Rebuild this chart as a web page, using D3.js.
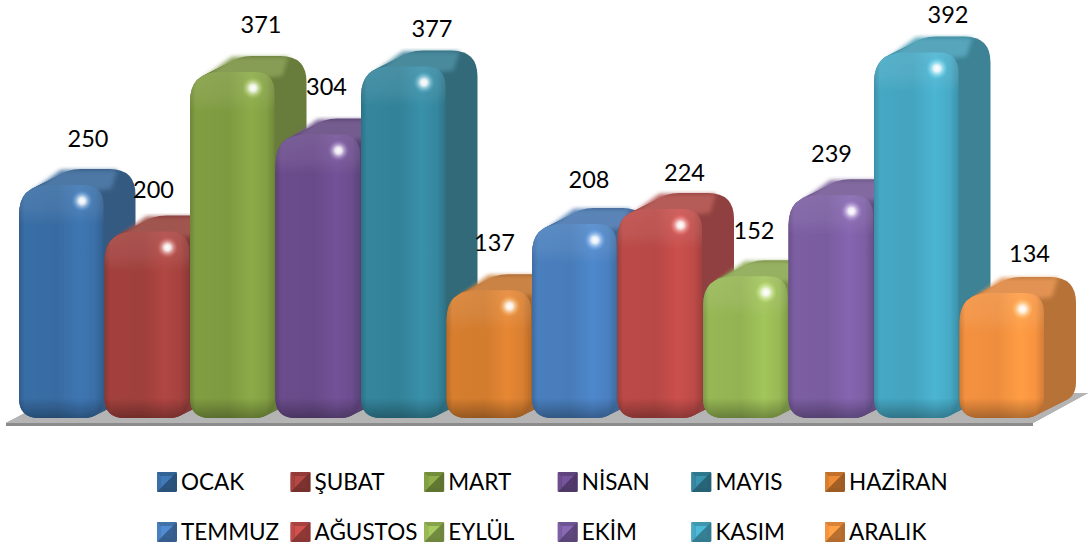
<!DOCTYPE html>
<html>
<head>
<meta charset="utf-8">
<script src="https://cdn.jsdelivr.net/npm/d3@7"></script>
<style>
  html, body { margin: 0; padding: 0; background: #fff; }
  svg { display: block; }
  text { font-family: Lato, "Open Sans", sans-serif; fill: #000; }
</style>
</head>
<body>
<svg id="chart" width="1088" height="548"></svg>
<script>
const months = ["OCAK", "ŞUBAT", "MART", "NİSAN", "MAYIS", "HAZİRAN", "TEMMUZ", "AĞUSTOS", "EYLÜL", "EKİM", "KASIM", "ARALIK"];
const counts = [250, 200, 371, 304, 377, 137, 208, 224, 152, 239, 392, 134];
const colors = ["#3a6fa8", "#a5423e", "#83a043", "#6c4d8e", "#35879f", "#d97f30", "#4a80c0", "#be4b48", "#98b955", "#7d5fa5", "#46aac6", "#f79340"];

// the labels were placed by hand in the original, so they don't follow the bars exactly
const labelDx = [69, 49, 71, 51, 71, 48, 57, 67, 51, 43, 74, 70];
const labelDy = [-38, -34, -39, -40, -29, -39, -36, -28, -37, -33, -29, -31];

const width = 1088, height = 548;
const depthX = 32, depthY = -16;

const svg = d3.select("#chart");
const defs = svg.append("defs");

const x = d3.scaleBand(months, [19, 19 + 12 * 85.5]);
const y = d3.scaleLinear([0, 400], [418, 45]);
const legendX = d3.scaleBand(d3.range(6), [157, 157 + 6 * 133.6]);
const legendY = d3.scaleBand(d3.range(2), [457, 557]);

function blur(id, amount) {
  defs.append("filter").attr("id", id)
    .attr("x", "-15%").attr("y", "-15%").attr("width", "130%").attr("height", "130%")
    .append("feGaussianBlur").attr("stdDeviation", amount);
}
blur("soft", 0.7);
blur("softer", 2.2);

function roundedBar(x0, y0, w, y1, rTL, rTR, rB) {
  const p = d3.path();
  p.moveTo(x0, y0 + rTL);
  p.quadraticCurveTo(x0, y0, x0 + rTL, y0);
  p.lineTo(x0 + w - rTR, y0);
  p.quadraticCurveTo(x0 + w, y0, x0 + w, y0 + rTR);
  p.lineTo(x0 + w, y1 - rB);
  p.quadraticCurveTo(x0 + w, y1, x0 + w - rB, y1);
  p.lineTo(x0 + rB, y1);
  p.quadraticCurveTo(x0, y1, x0, y1 - rB);
  p.closePath();
  return p.toString();
}

function addGradients(i, c, top) {
  const base = d3.rgb(c);
  const front = defs.append("linearGradient").attr("id", "front" + i);
  [[0, base.darker(0.5)], [0.07, base.darker(0.03)], [0.45, base.darker(0.1)],
   [0.72, base.brighter(0.18)], [0.9, base], [1, base.darker(0.45)]].forEach(s => {
    front.append("stop").attr("offset", s[0]).attr("stop-color", s[1]);
  });

  const shade = defs.append("linearGradient").attr("id", "shade" + i)
    .attr("gradientUnits", "userSpaceOnUse")
    .attr("x1", 0).attr("x2", 0).attr("y1", top).attr("y2", y(0));
  const h = y(0) - top;
  [[0, "#fff", 0.1], [24 / h, "#fff", 0.07], [40 / h, "#fff", 0],
   [1 - 20 / h, "#000", 0], [1, "#000", 0.3]].forEach(s => {
    shade.append("stop").attr("offset", s[0]).attr("stop-color", s[1]).attr("stop-opacity", s[2]);
  });

  const glow = defs.append("radialGradient").attr("id", "glow" + i);
  glow.append("stop").attr("offset", 0).attr("stop-color", "#fff").attr("stop-opacity", 1);
  glow.append("stop").attr("offset", 0.3).attr("stop-color", "#fff").attr("stop-opacity", 0.85);
  glow.append("stop").attr("offset", 1).attr("stop-color", base.brighter(0.8)).attr("stop-opacity", 0);
}

// floor
const floorFront = y(0) + 5, floorBack = y(0) - 25;
const floorPoints = [
  [x.range()[0] - 13, floorFront],
  [x.range()[0] + depthX + 12, floorBack],
  [width, floorBack],
  [width - 55, floorFront]
];
const floor = svg.append("g").attr("filter", "url(#soft)");
floor.append("polygon")
  .attr("points", floorPoints.concat([[width - 55, floorFront + 3], [x.range()[0] - 13, floorFront + 3]]).join(" "))
  .attr("fill", "#8c8c8c");
floor.append("polygon").attr("points", floorPoints.join(" ")).attr("fill", "#b4b4b4");

// bars, drawn left to right so each one covers the side of the one before it
months.forEach((m, i) => {
  const x0 = x(m), w = x.bandwidth() - 1, top = y(counts[i]), bottom = y(0), c = colors[i];
  addGradients(i, c, top);
  const base = d3.rgb(c);
  const side = d3.interpolateRgb(base.darker(0.7), "#707070")(0.12);
  const g = svg.append("g").attr("class", "bar").attr("filter", "url(#soft)");

  // side: the front shape dragged back along the depth, corners opening up as it goes
  d3.range(0, 33, 2).forEach(k => {
    const f = k / 32;
    g.append("path")
      .attr("d", roundedBar(x0 + depthX * f, top + depthY * f, w, bottom + depthY * f, 30, 20 + 6 * f, 20))
      .attr("fill", side);
  });

  // top face
  g.append("polygon")
    .attr("points", [
      [x0 + 12, top + 7],
      [x0 + depthX + 10, top + depthY + 1],
      [x0 + w + depthX - 18, top + depthY + 1],
      [x0 + w + 8, top + 4],
      [x0 + w - 10, top + 6],
      [x0 + 28, top + 6]
    ].join(" "))
    .attr("fill", d3.interpolateRgb(base.darker(0.12), "#b0b0b0")(0.18))
    .attr("filter", "url(#softer)");

  // front face
  g.append("path")
    .attr("d", roundedBar(x0, top, w, bottom, 30, 20, 20))
    .attr("fill", `url(#front${i})`);
  g.append("path")
    .attr("d", roundedBar(x0, top, w, bottom, 30, 20, 20))
    .attr("fill", `url(#shade${i})`);

  // specular spot
  g.append("circle")
    .attr("cx", x0 + 63).attr("cy", top + 16).attr("r", 11)
    .attr("fill", `url(#glow${i})`);
});

// value labels
svg.append("g").selectAll("text")
  .data(counts)
  .enter()
  .append("text")
  .attr("x", (d, i) => x(months[i]) + labelDx[i])
  .attr("y", (d, i) => y(d) + labelDy[i])
  .attr("text-anchor", "middle")
  .attr("font-size", 23.5)
  .text(d => d);

// legend
const legend = svg.append("g");
months.forEach((m, i) => {
  const col = i % 6, row = Math.floor(i / 6), s = 20, b = 4;
  const lx = legendX(col), ly = legendY(row) + legendY.bandwidth() / 2 - s / 2;
  const base = d3.rgb(colors[i]);
  const item = legend.append("g").attr("transform", `translate(${lx},${ly})`);
  item.append("rect").attr("width", s).attr("height", s).attr("rx", 1.5).attr("fill", base.darker(0.9));
  item.append("polygon").attr("points", [[b, b], [s - b, b], [b, s - b]].join(" ")).attr("fill", base.brighter(0.25));
  item.append("polygon").attr("points", [[s - b, b], [s - b, s - b], [b, s - b]].join(" ")).attr("fill", base.darker(0.8));
  item.append("polygon").attr("points", [[0, 0], [s, 0], [s - b, b], [b, b]].join(" ")).attr("fill", base.darker(0.35));
  item.append("polygon").attr("points", [[0, 0], [b, b], [b, s - b], [0, s]].join(" ")).attr("fill", base);
  item.append("text")
    .attr("x", s + 4).attr("y", s / 2 + 8)
    .attr("font-size", 22.5)
    .text(m);
});
</script>
</body>
</html>
